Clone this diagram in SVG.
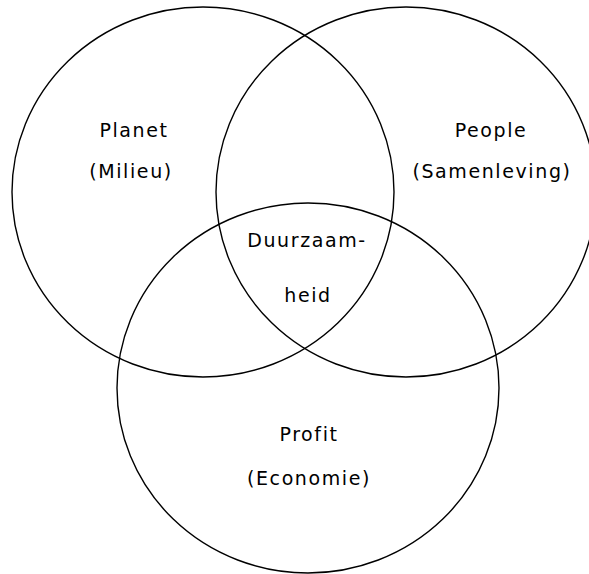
<svg xmlns="http://www.w3.org/2000/svg" width="589" height="574" viewBox="0 0 589 574">
<style>
.c{fill:none;stroke:#000;stroke-width:1.4}
.t{font-family:"DejaVu Sans",sans-serif;font-size:19px;fill:#000;text-anchor:middle;letter-spacing:1.6px}
</style>
<rect width="589" height="574" fill="#fff"/>
<g id="planet">
<ellipse class="c" cx="203" cy="192" rx="191" ry="185"/>
<text class="t" x="134" y="137">Planet</text>
<text class="t" x="131" y="178">(Milieu)</text>
</g>
<g id="people">
<ellipse class="c" cx="406" cy="192" rx="190" ry="185"/>
<text class="t" x="491" y="137">People</text>
<text class="t" x="492" y="178">(Samenleving)</text>
</g>
<g id="profit">
<ellipse class="c" cx="308" cy="388" rx="191" ry="185"/>
<text class="t" x="309" y="441">Profit</text>
<text class="t" x="309" y="485">(Economie)</text>
</g>
<g id="duurzaamheid">
<text class="t" x="307" y="247">Duurzaam-</text>
<text class="t" x="308" y="302">heid</text>
</g>
<g id="connectors"/>
</svg>
